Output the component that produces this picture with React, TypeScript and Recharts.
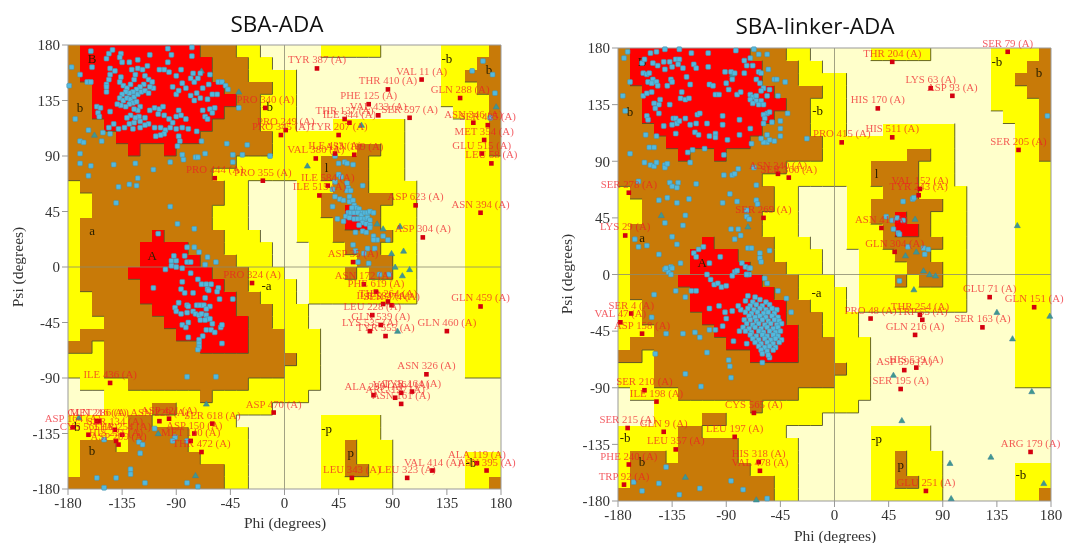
import React from 'react';
import { ScatterChart, Scatter, XAxis, YAxis, ReferenceArea, ReferenceLine } from 'recharts';

// Ramachandran background, one row per 10 degrees of psi from 180 down to -180.
// Each run is a zone letter followed by the column where it stops (columns are 10 degrees of phi).
const zoneRows = [
  'o1r11o14y16.21y26.31y35o36', 'o1r12o15y17.31y34o36', 'o1r12o15y19.31y33o36', 'o2r13o17y19.31y34o36',
  'o2r14o16y19.31y35o36', 'o2r13o16y19.32y35o36', 'o3r12o16y19.22y28.33y35o36', 'o4r11o17y28.33y35o36',
  'o5r6o8r9o17y24o26y28.33y35o36', 'o14y21o25y28.33y36', 'o12y21o25y28.33y36', 'y1o13y15.19y22o25y29.33y36',
  'y2o13y15.19y21o27y29.33y36', 'y2o12y15.19y21o23r24o26y29.33y36', 'y1o12y15.19y22o23r25o26y29.33y36',
  'y1o7r8o13y16.19y22o27y29.33y36', 'y1o6r10o13y17.20y23o26y29.33y36', 'y1o6r11o14y17.20y24o27y29.33y36',
  'y1o5r12o15y18.20y23o24y25o27y29.33y36', 'y1o6r13o15y19.20y29.33y36', 'y2o6r14o16y19.20y29.33y36',
  'y2o7r14o17y20.33y36', 'y3o8r15o17y20.33y36', 'y1o9r15o18y21.33y36', 'o2y3o11r15o18y21.33y36',
  'y3o19y21.33y36', 'y3o18y21.33y36', '.1y5o15y21.36', '.3y11o12y20.36', '.3y7o9y17.36', 'y5o7y14.21y26.36',
  'y5o10y15.21y26.36', 'y1o4y5o10y15.21y23o24y27.36', 'y1o11y15.21y23o24y27.33y36',
  'y1o13y15.21y23o25y27.33y36', 'o13y15.21y27.33y35o36',
];
const zoneColors: any = { '.': '#ffffcb', y: '#ffff00', o: '#c87a08', r: '#ff0000' };
const zoneRank: any = { '.': 0, y: 1, o: 2, r: 3 };
const axisTicks = [-180, -135, -90, -45, 0, 45, 90, 135, 180];
const zoneLabels = [
  ['B', -160, 169], ['b', -170, 129], ['a', -160, 29], ['A', -110, 9], ['-b', -14, 130], ['-b', 135, 169],
  ['b', 170, 160], ['l', 35, 80], ['-a', -15, -15], ['b', -160, -149], ['-b', -174, -130], ['-p', 35, -131],
  ['p', 55, -151], ['-b', 155, -159],
];

// SBA-ADA
const leftBlue = [
  [-161,175],[-177,162],[-170,156],[-179,147],[-164,150],[-161,150],[-160,162],[-148,169],[-146,173],[-143,176],
  [-136,173],[-137,170],[-135,166],[-129,166],[-122,168],[-112,172],[-94,172],[-97,166],[-97,177],[-77,178],[-77,171],
  [-86,160],[-145,161],[-141,159],[-145,156],[-146,152],[-148,148],[-148,146],[-148,142],[-136,154],[-137,150],[-134,147],
  [-131,145],[-128,148],[-125,152],[-124,156],[-127,160],[-122,161],[-118,160],[-114,163],[-116,155],[-113,152],[-110,150],
  [-109,145],[-112,146],[-117,148],[-120,146],[-123,144],[-126,142],[-129,141],[-132,142],[-135,140],[-137,137],[-134,135],
  [-131,137],[-128,136],[-125,138],[-122,140],[-119,142],[-116,143],[-113,141],[-126,133],[-129,132],[-132,130],[-136,131],
  [-139,132],[-123,134],[-120,130],[-122,127],[-125,128],[-121,122],[-124,121],[-128,123],[-131,121],[-120,118],[-125,117],
  [-129,116],[-133,113],[-138,112],[-142,116],[-146,113],[-116,121],[-113,116],[-116,115],[-120,113],[-126,112],
  [-156,130],[-153,129],[-155,125],[-154,122],[-145,126],[-112,127],[-108,129],[-104,128],[-101,130],[-105,124],[-100,123],
  [-96,120],[-93,117],[-90,122],[-88,127],[-86,123],[-82,120],[-108,113],[-103,113],[-99,111],[-95,113],[-100,108],[-103,107],
  [-107,106],[-90,112],[-85,113],[-80,112],[-88,106],[-73,110],[-90,140],[-93,146],[-88,143],[-85,149],[-82,145],[-78,139],
  [-75,135],[-73,141],[-70,137],[-64,136],[-62,128],[-58,129],[-60,125],[-68,127],[-66,122],[-64,120],[-68,145],[-63,148],
  [-60,140],[-56,140],[-75,150],[-78,153],[-72,153],[-70,157],[-76,157],[-62,156],[-90,155],[-96,158],[-100,160],[-104,160],
  [-55,150],[-52,150],[-49,147],[-47,144],[-38,129],
  [-170,102],[-167,101],[-170,92],[-170,84],[-161,82],[-163,74],[-142,83],[-124,84],[-109,79],[-95,85],[-85,91],[-84,87],
  [-74,89],[-72,89],[-66,92],[-43,91],[-35,91],[-43,85],[-12,90],[-31,99],[-48,100],[-69,102],[-87,102],[-89,98],[-138,65],
  [-129,67],[-123,66],[-122,72],[-140,52],[-174,120],[-163,111],[-152,102],[-151,109],[-145,108],
  [-105,27],[-95,49],[-89,35],[-75,31],[-81,16],[-75,16],[-71,12],[-64,8],[-57,4],[-66,2],[-92,9],[-94,5],[-90,5],[-83,9],
  [-81,4],[-78,4],[-99,-2],[-94,1],[-90,0],[-85,-1],[-78,-5],[-72,-10],[-85,-12],[-69,-14],[-65,-14],[-61,-14],[-109,-17],
  [-86,-18],[-83,-21],[-76,-21],[-64,-18],[-66,-25],[-63,-19],[-55,-17],[-56,-20],[-54,-26],[-43,-26],[-88,-29],[-91,-33],
  [-90,-36],[-86,-38],[-81,-31],[-80,-32],[-81,-37],[-76,-36],[-73,-31],[-70,-31],[-67,-31],[-62,-32],[-74,-38],[-71,-39],
  [-69,-38],[-65,-34],[-65,-39],[-64,-42],[-70,-43],[-66,-43],[-62,-42],[-60,-46],[-85,-47],[-80,-45],[-82,-49],[-80,-57],
  [-65,-51],[-61,-51],[-58,-53],[-53,-49],[-52,-47],[-68,-56],[-71,-59],[-71,-62],[-71,-65],[-72,-67],[-52,-62],[-81,-89],[-57,-89],
  [42,90],[45,84],[50,85],[52,84],[57,83],[45,75],[47,73],[42,69],[40,63],[52,68],[53,64],[65,66],[52,62],[55,62],[42,57],
  [46,55],[49,54],[54,57],[40,49],[54,53],[57,54],[58,50],[60,48],[62,47],[64,44],[56,48],[53,44],[55,44],[58,44],[61,44],
  [64,42],[67,44],[69,44],[71,45],[74,44],[51,41],[54,40],[44,39],[49,37],[58,39],[61,39],[64,39],[67,39],[69,40],[71,38],
  [65,36],[68,35],[71,34],[62,34],[59,28],[65,29],[68,28],[71,32],[74,25],[77,22],[82,25],[86,22],[74,22],[57,18],[59,13],
  [66,11],[69,15],[75,15],[61,4],[70,3],[79,-6],[87,-6],[-108,-131],[-121,-142],[-118,-144],[-120,-151],[-128,-164],[-128,-168],
  [-156,-171],[-140,-171],[-116,-175],[-81,-175],[-72,-178],[-150,-179],[-150,-140],[-91,-138],[-93,-141],[-81,-141],
  [165,167],[156,159],[173,156],[175,141],[171,121],
];
const leftTri = [
  [19,82],[64,115],[77,35],[82,31],[96,33],[99,13],[89,11],[92,0],[104,-2],[98,-7],[94,-52],[176,130],[-38,142],[-158,107],
  [-69,159],[-171,-122],[-65,-111],[-74,-169],[-105,-135],
];
const leftRed: any[] = [
  ['TYR 387 (A)',27,161],['VAL 11 (A)',114,152],['THR 410 (A)',86,144],['GLN 288 (A)',146,137],['PHE 125 (A)',70,132],
  ['VAL 433 (A)',78,123],['SER 597 (A)',104,121],['THR 137 (A)',50,120],['ILE 344 (A)',54,117],['TYR 207 (A)',45,107],
  ['ILE 433 (A)',42,92],['ASN 189 (A)',58,91],['VAL 380 (A)',26,88],['ILE 584 (A)',36,66],['ILE 515 (A)',29,58],
  ['ASP 623 (A)',109,50],['ASN 394 (A)',163,44],['ASP 304 (A)',115,24],['ASP 35 (A)',57,4],['SER 435 (A)',169,115],
  ['ASN 346 (A)',157,117],['MET 354 (A)',166,103],['GLU 515 (A)',164,92],['LEU 58 (A)',172,84],['PRO 340 (A)',-16,129],
  ['PRO 249 (A)',1,111],['PRO 345 (A)',-3,107],['PRO 444 (A)',-58,72],['PRO 355 (A)',-18,70],['PRO 324 (A)',-27,-13],
  ['ILE 436 (A)',-145,-94],['ASN 172 (A)',66,-14],['PHE 619 (A)',76,-20],['ILE 584 (A)',82,-30],['THR 264 (A)',86,-28],
  ['SER 274 (A)',89,-31],['LEU 228 (A)',73,-39],['GLN 539 (A)',80,-47],['LYS 535 (A)',71,-52],['TYR 555 (A)',84,-56],
  ['GLN 460 (A)',135,-52],['GLN 459 (A)',163,-32],['ASN 326 (A)',118,-87],['TYR 164 (A)',106,-101],['VAL 364 (A)',97,-102],
  ['ALA 299 (A)',74,-104],['ARG 127 (A)',92,-106],['ASN 161 (A)',97,-111],['ASP 470 (A)',-9,-118],['LEU 343 (A)',56,-171],
  ['LEU 323 (A)',102,-171],['VAL 414 (A)',123,-165],['ALA 119 (A)',160,-159],['ASN 395 (A)',168,-165],['ASP 164 (A)',-176,-130],
  ['MET 286 (A)',-154,-125],['GLN 216 (A)',-156,-125],['CYS 565 (A)',-163,-136],['SER 134 (A)',-141,-132],['THR 254 (A)',-135,-136],
  ['HIS 231 (A)',-140,-141],['ASP 209 (A)',-138,-144],['ASP 421 (A)',-96,-123],['ASN 229 (A)',-104,-125],['SER 618 (A)',-60,-127],
  ['ASP 150 (A)',-75,-135],['MET 140 (A)',-78,-141],['THR 472 (A)',-69,-150],
];

// SBA-linker-ADA
const rightBlue = [
  [-172,177],[-175,172],[-170,153],[-176,142],[-174,130],[-170,96],[-153,176],[-148,177],[-141,179],[-129,179],[-119,176],
  [-105,176],[-82,178],[-67,179],[-63,175],[-56,175],[-70,172],[-75,170],[-73,166],[-68,166],[-55,163],[-160,168],[-158,171],
  [-151,168],[-147,166],[-142,169],[-137,169],[-132,171],[-129,171],[-141,163],[-135,165],[-130,167],[-126,164],[-117,167],
  [-115,164],[-105,165],[-159,160],[-156,159],[-154,160],[-151,155],[-155,153],[-152,152],[-148,153],[-147,150],[-139,150],
  [-136,155],[-135,153],[-123,157],[-120,151],[-91,161],[-86,161],[-83,160],[-85,155],[-75,160],[-90,152],[-104,151],[-101,150],
  [-88,147],[-99,143],[-96,143],[-81,143],[-78,145],[-70,143],[-68,141],[-63,161],[-61,160],[-65,155],[-62,152],[-59,148],
  [-54,147],[-50,155],[-48,155],[-41,153],[-47,142],[-56,142],[-61,146],[-65,142],[-70,139],[-65,138],[-61,138],[-68,136],
  [-63,135],[-59,135],[-56,128],[-54,129],[-59,127],[-58,124],[-59,120],[-52,121],[-39,128],[-45,122],[-45,116],[-45,110],
  [-50,106],[-56,105],[-59,105],[-61,108],[-56,111],[-54,107],[-69,104],[-23,108],[-159,142],[-156,144],[-152,145],[-145,139],
  [-146,135],[-150,136],[-149,132],[-146,128],[-137,135],[-128,140],[-127,145],[-124,139],[-121,140],[-156,126],[-155,123],
  [-142,118],[-134,124],[-132,124],[-135,119],[-131,120],[-129,122],[-124,124],[-120,119],[-115,120],[-114,127],[-112,128],
  [-106,120],[-93,126],[-93,119],[-79,123],[-70,116],[-132,112],[-116,113],[-113,111],[-104,110],[-99,112],[-99,109],[-89,107],
  [-79,111],[-157,111],[-148,110],[-154,101],[-150,101],[-118,99],[-122,97],[-108,100],[-92,95],[-120,89],[-158,89],[-153,87],
  [-150,86],[-148,89],[-141,87],[-141,85],[-139,88],[-92,79],[-85,79],[-83,80],[-80,84],[-67,85],[-65,71],[-115,72],[-137,73],
  [-130,73],[-135,70],[-131,69],[-163,74],[-146,59],[-139,61],[-131,57],[-121,60],[-93,57],[-87,64],[-81,58],[-65,59],[-64,56],
  [-73,51],[-73,46],[-71,44],[-124,47],[-141,41],[-126,39],[-86,36],[-80,36],[-78,31],[-83,28],[-135,30],[-131,24],[-163,22],
  [-156,23],[-166,28],[-146,16],[-128,9],[-141,4],[-136,6],[-138,2],[-135,5],[-109,22],[-113,20],[-117,17],[-115,14],[-104,9],
  [-95,14],[-72,21],[-69,21],[-62,17],[-62,13],[-61,10],[-54,19],[-77,9],[-74,6],[-71,5],[-83,2],[-73,0],[-71,0],
  [-140,5],[-136,0],[-106,0],[-103,-4],[-100,-8],[-97,-7],[-94,-10],[-90,-9],[-85,-1],[-81,3],[-73,0],[-70,5],[-132,-13],[-119,-13],
  [-115,-13],[-124,-18],[-150,-16],[-152,-34],[-140,-47],[-126,-47],[-116,-46],[-112,-50],[-104,-27],[-96,-25],[-104,-44],[-99,-44],
  [-93,-41],[-90,-35],[-91,-30],[-85,-29],[-78,-28],[-80,-25],[-84,-53],[-73,-55],[-79,-45],[-106,-62],[-88,-68],[-87,-73],
  [-86,-82],[-124,-79],[-111,-89],[-149,-63],[-60,-70],[-54,-66],[-58,-3],[-56,-7],[-47,-13],[-40,-19],[-36,-30],
  [-72,-17],[-66,-18],[-74,-21],[-68,-22],[-62,-20],[-57,-22],[-70,-25],[-65,-24],[-60,-25],[-54,-24],[-72,-27],[-67,-28],[-62,-27],
  [-57,-28],[-52,-27],[-48,-28],[-74,-30],[-69,-31],[-64,-30],[-59,-31],[-55,-30],[-50,-31],[-71,-33],[-66,-34],[-62,-33],[-57,-34],
  [-52,-33],[-47,-34],[-75,-36],[-70,-36],[-65,-37],[-60,-36],[-55,-37],[-50,-36],[-46,-37],[-73,-39],[-68,-40],[-63,-39],[-58,-40],
  [-53,-39],[-48,-40],[-44,-39],[-76,-42],[-71,-43],[-66,-42],[-61,-43],[-56,-42],[-51,-43],[-47,-42],[-74,-45],[-69,-46],[-63,-45],
  [-59,-46],[-54,-45],[-49,-46],[-45,-45],[-70,-48],[-65,-49],[-60,-48],[-56,-49],[-51,-48],[-47,-49],[-68,-51],[-63,-52],[-58,-51],
  [-53,-52],[-49,-51],[-44,-52],[-66,-54],[-61,-55],[-56,-54],[-51,-55],[-46,-54],[-63,-57],[-58,-58],[-54,-57],[-49,-58],[-61,-60],
  [-56,-61],[-51,-60],[-60,-63],[-55,-64],
  [-140,-153],[-167,-165],[-146,-166],[-112,-170],[-86,-164],[-76,-171],[-160,-172],[-129,-175],[-56,-178],
  [57,58],[65,60],[66,61],[43,46],[48,43],[52,45],[57,43],[49,36],[53,33],[54,32],[61,22],[74,21],[78,20],[75,16],[54,-5],[177,126],
];
const rightTri = [
  [-144,47],[-72,38],[-85,159],[152,39],[67,44],[68,18],[59,15],[74,3],[79,0],[84,-1],[66,-12],[135,-30],[179,-33],[148,-51],
  [49,-80],[164,-93],[56,-116],[130,-145],[96,-150],[174,-166],[97,-178],[-124,-161],[-65,-179],
];
const rightRed: any[] = [
  ['SER 278 (A)',-171,65],['LYS 29 (A)',-174,31],['SER 269 (A)',-59,45],['ASN 340 (A)',-47,80],['SER 360 (A)',-38,77],
  ['PRO 415 (A)',6,105],['HIS 511 (A)',48,109],['THR 204 (A)',48,169],['SER 79 (A)',144,177],['LYS 63 (A)',80,148],
  ['ASP 93 (A)',98,142],['HIS 170 (A)',36,132],['SER 205 (A)',153,99],['VAL 152 (A)',71,68],['TYR 243 (A)',70,63],
  ['ASN 41 (A)',39,37],['GLN 304 (A)',50,18],['GLU 71 (A)',129,-18],['GLN 151 (A)',166,-26],['PRO 48 (A)',30,-35],
  ['THR 254 (A)',71,-32],['TRP 55 (A)',73,-36],['GLN 216 (A)',67,-48],['SER 163 (A)',123,-42],['HIS 539 (A)',68,-74],
  ['ASP 596 (A)',58,-76],['SER 195 (A)',55,-91],['ARG 179 (A)',163,-141],['GLU 251 (A)',76,-172],['SER 4 (A)',-169,-31],
  ['VAL 47 (A)',-178,-38],['ASP 158 (A)',-160,-47],['SER 210 (A)',-158,-92],['ILE 198 (A)',-148,-101],['SER 215 (A)',-172,-122],
  ['GLN 9 (A)',-142,-125],['LEU 357 (A)',-132,-139],['PHE 240 (A)',-171,-151],['TRP 92 (A)',-175,-167],['LEU 197 (A)',-83,-129],
  ['HIS 318 (A)',-63,-149],['VAL 478 (A)',-62,-156],['CYS 565 (A)',-67,-110],
];

const serif = '"Liberation Serif", serif';

// expand the run strings into a 36x36 grid
const grid = zoneRows.map((row) => {
  const cells: string[] = [];
  for (const m of row.matchAll(/([.yor])(\d+)/g)) {
    while (cells.length < Number(m[2])) cells.push(m[1]);
  }
  return cells;
});
const colPhi = (c: number) => -180 + c * 10;
const rowPsi = (r: number) => 180 - r * 10;

const zoneRects: any[] = [];
grid.forEach((cells, r) => {
  let start = 0;
  for (let c = 1; c <= 36; c++) {
    if (c === 36 || cells[c] !== cells[start]) {
      zoneRects.push({ x1: colPhi(start), x2: colPhi(c), y1: rowPsi(r + 1), y2: rowPsi(r), fill: zoneColors[cells[start]] });
      start = c;
    }
  }
});

// dark shadow on bottom and right sides of a zone, as PROCHECK draws it
const zoneEdges: any[] = [];
grid.forEach((cells, r) => {
  cells.forEach((z, c) => {
    const below = r < 35 ? grid[r + 1][c] : z;
    const right = c < 35 ? cells[c + 1] : z;
    if (zoneRank[z] > zoneRank[below]) zoneEdges.push([[colPhi(c), rowPsi(r + 1)], [colPhi(c + 1), rowPsi(r + 1)]]);
    if (zoneRank[z] > zoneRank[right]) zoneEdges.push([[colPhi(c + 1), rowPsi(r)], [colPhi(c + 1), rowPsi(r + 1)]]);
  });
});

const SquareDot = (props: any) => (
  <rect x={props.cx - 2.4} y={props.cy - 2.4} width={4.8} height={4.8} rx={1} fill="#53b9de" stroke="#4a93ad" strokeWidth={0.6} />
);
const RedDot = (props: any) => (
  <g>
    <text x={props.cx} y={props.cy - 5} textAnchor="middle" fontFamily={serif} fontSize={10.8} fill="#ee1c25" fillOpacity={0.72}>{props.name}</text>
    <rect x={props.cx - 2.3} y={props.cy - 2.3} width={4.6} height={4.6} fill="#d4000f" />
  </g>
);
const TriDot = (props: any) => (
  <path d={`M${props.cx} ${props.cy - 3}L${props.cx + 3} ${props.cy + 2.2}L${props.cx - 3} ${props.cy + 2.2}Z`} fill="#3f9a8c" stroke="#3d7fa0" strokeWidth={0.6} />
);
const ZoneText = (props: any) => (
  <text x={props.cx} y={props.cy + 4} textAnchor="middle" fontFamily={serif} fontSize={13} fill="#2a2000">{props.name}</text>
);

const toPoints = (list: number[][]) => list.map((p) => ({ phi: p[0], psi: p[1] }));
const toNamed = (list: any[]) => list.map((p) => ({ name: p[0], phi: p[1], psi: p[2] }));

function renderPlot(blue: number[][], tri: number[][], red: any[], width: number, margin: any) {
  return (
    <ScatterChart width={width} height={543} margin={margin}>
      <XAxis type="number" dataKey="phi" domain={[-180, 180]} ticks={axisTicks} interval={0} height={40}
        tick={{ fontFamily: serif, fontSize: 15, fill: '#333' }} tickSize={6} stroke="#999" />
      <YAxis type="number" dataKey="psi" domain={[-180, 180]} ticks={axisTicks} interval={0} width={50}
        tick={{ fontFamily: serif, fontSize: 15, fill: '#333' }} tickSize={6} stroke="#999" />
      {zoneRects.map((z, i) => (
        <ReferenceArea key={`z${i}`} x1={z.x1} x2={z.x2} y1={z.y1} y2={z.y2} fill={z.fill} fillOpacity={1}
          stroke="none" shapeRendering="crispEdges" ifOverflow="visible" />
      ))}
      {zoneEdges.map((e, i) => (
        <ReferenceLine key={`e${i}`} segment={[{ x: e[0][0], y: e[0][1] }, { x: e[1][0], y: e[1][1] }]}
          stroke="#55552a" strokeWidth={0.9} ifOverflow="visible" />
      ))}
      <ReferenceLine x={0} stroke="#8a8a70" strokeWidth={0.8} />
      <ReferenceLine y={0} stroke="#8a8a70" strokeWidth={0.8} />
      <ReferenceLine x={180} stroke="#999" />
      <ReferenceLine y={180} stroke="#999" />
      <Scatter data={toNamed(zoneLabels)} shape={ZoneText} isAnimationActive={false} />
      <Scatter data={toPoints(tri)} shape={TriDot} isAnimationActive={false} />
      <Scatter data={toPoints(blue)} shape={SquareDot} isAnimationActive={false} />
      <Scatter data={toNamed(red)} shape={RedDot} isAnimationActive={false} />
    </ScatterChart>
  );
}

const abs = (left: number, top: number): React.CSSProperties => ({ position: 'absolute', left, top });
const titleStyle: React.CSSProperties = { fontFamily: '"Open Sans", sans-serif', fontSize: 22.5, lineHeight: '30px', color: '#111', whiteSpace: 'nowrap', transform: 'translateX(-50%)' };
const axisTitle: React.CSSProperties = { fontFamily: serif, fontSize: 15.5, color: '#333', whiteSpace: 'nowrap', transform: 'translateX(-50%)' };
const psiTitle: React.CSSProperties = { fontFamily: serif, fontSize: 15.5, color: '#333', whiteSpace: 'nowrap', transform: 'translate(-50%, -50%) rotate(-90deg)' };

export default function App() {
  return (
    <div style={{ position: 'absolute', left: 0, top: 0, width: 1066, height: 543, overflow: 'hidden', background: '#fff', filter: 'blur(0.5px)' }}>
      <div style={abs(0, 0)}>
        {renderPlot(leftBlue, leftTri, leftRed, 540, { top: 45, right: 39, left: 18, bottom: 14 })}
      </div>
      <div style={abs(540, 0)}>
        {renderPlot(rightBlue, rightTri, rightRed, 526, { top: 48, right: 15, left: 28, bottom: 2 })}
      </div>
      <div style={{ ...abs(277, 9), ...titleStyle }}>SBA-ADA</div>
      <div style={{ ...abs(815, 11), ...titleStyle }}>SBA-linker-ADA</div>
      <div style={{ ...abs(285, 514), ...axisTitle }}>Phi (degrees)</div>
      <div style={{ ...abs(835, 527), ...axisTitle }}>Phi (degrees)</div>
      <div style={{ ...abs(18, 267), ...psiTitle }}>Psi (degrees)</div>
      <div style={{ ...abs(567, 274), ...psiTitle }}>Psi (degrees)</div>
    </div>
  );
}
